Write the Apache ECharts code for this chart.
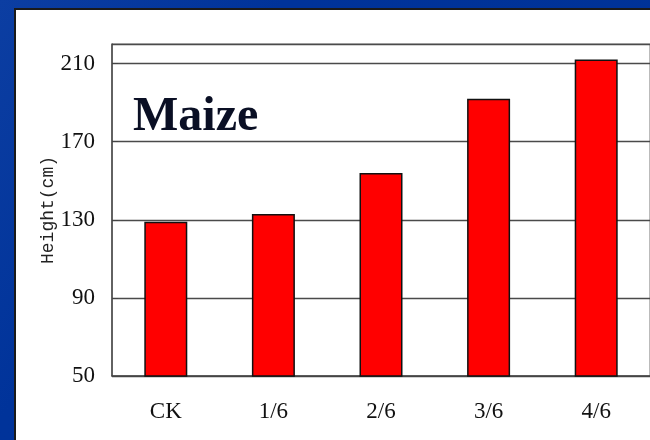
<!DOCTYPE html>
<html>
<head>
<meta charset="utf-8">
<script src="https://cdn.jsdelivr.net/npm/echarts@6/dist/echarts.min.js"></script>
<style>
    html, body { margin: 0; padding: 0; }
    #chart { width: 650px; height: 440px; }
</style>
</head>
<body>
<div id="chart"></div>
<script>
var categorias = ['CK', '1/6', '2/6', '3/6', '4/6'];
var altura = [129, 133, 154, 192, 212];
var titulo = 'Maize';
var nombreEjeY = 'Height(cm)';

var myChart = echarts.init(document.getElementById('chart'));

myChart.setOption({
    animation: false,
    // fondo azul de la diapositiva
    backgroundColor: {
        type: 'linear', x: 0, y: 0, x2: 1, y2: 1,
        colorStops: [
            { offset: 0, color: '#0c3ea2' },
            { offset: 0.3, color: '#00339a' },
            { offset: 1, color: '#003296' }
        ]
    },
    graphic: [
        {
            type: 'rect',
            z: -10,
            shape: { x: 15, y: 9, width: 700, height: 500 },
            style: { fill: '#ffffff', stroke: '#1a1a1a', lineWidth: 2 }
        },
        {
            type: 'text',
            left: 133,
            top: 94,
            style: {
                text: titulo,
                font: 'bold 48px "Liberation Serif"',
                fill: '#0a0f24'
            }
        }
    ],
    grid: {
        left: 112,
        top: 44,
        right: -2,
        bottom: 64,
        show: true,
        borderColor: '#777',
        borderWidth: 1
    },
    xAxis: {
        type: 'category',
        data: categorias,
        axisLine: { lineStyle: { color: '#444', width: 1.5 } },
        axisTick: { inside: true, length: 7, lineStyle: { color: '#444' } },
        axisLabel: {
            margin: 24,
            color: '#111',
            fontFamily: 'Liberation Serif',
            fontSize: 23
        }
    },
    yAxis: {
        type: 'value',
        min: 50,
        max: 220,
        interval: 40,
        name: nombreEjeY,
        nameLocation: 'middle',
        nameGap: 55,
        nameMoveOverlap: false,
        nameTextStyle: {
            color: '#222',
            fontFamily: 'Liberation Mono',
            fontSize: 18
        },
        axisLine: { show: true, lineStyle: { color: '#444', width: 1.5 } },
        axisTick: { show: true, inside: true, length: 6, lineStyle: { color: '#444' } },
        axisLabel: {
            margin: 17,
            padding: [4, 0, 0, 0],
            color: '#111',
            fontFamily: 'Liberation Serif',
            fontSize: 23,
            showMaxLabel: false
        },
        splitLine: { lineStyle: { color: '#4a4a4a', width: 1.3 } }
    },
    series: [
        {
            type: 'bar',
            data: altura,
            barWidth: 43,
            itemStyle: {
                color: '#ff0000',
                borderColor: '#111',
                borderWidth: 1.5
            }
        }
    ]
});
</script>
</body>
</html>
